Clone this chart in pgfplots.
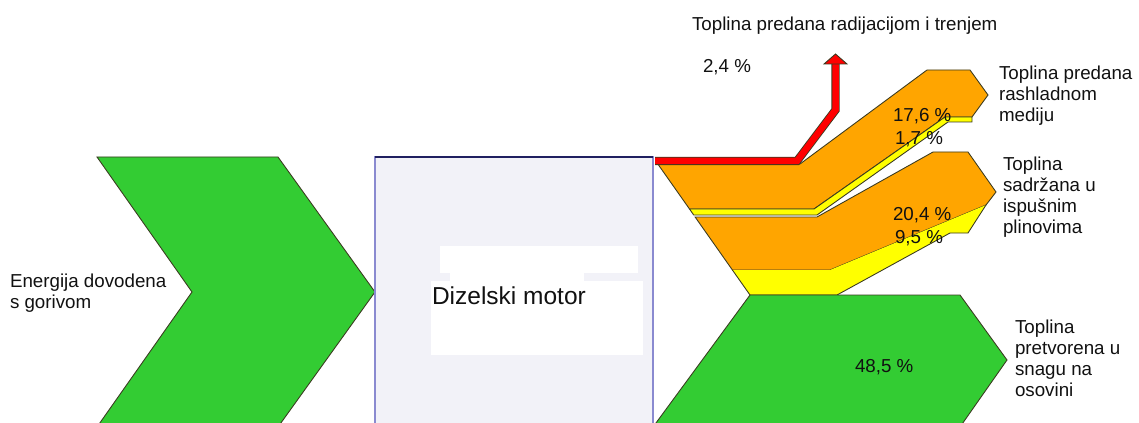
\documentclass[border=0pt]{standalone}
\usepackage{pgfplots}
\pgfplotsset{compat=1.18}
\usepackage{fontspec}
\setmainfont{Liberation Sans}
\definecolor{fgreen}{HTML}{33CC33}
\definecolor{forange}{HTML}{FFA500}
\definecolor{fyellow}{HTML}{FFFF00}
\definecolor{fred}{HTML}{FF0000}
\definecolor{boxfill}{HTML}{F2F2F8}
\definecolor{boxline}{HTML}{8A8AD0}
\definecolor{boxtop}{HTML}{202060}
\definecolor{edge}{HTML}{3A3A20}
\definecolor{txt}{HTML}{111111}
\tikzset{lab/.style={font=\fontsize{7.5bp}{8.6bp}\selectfont,text=txt,inner sep=0pt,outer sep=0pt,anchor=base west}}
\begin{document}
\begin{tikzpicture}
\begin{axis}[width=455.6bp,height=169.2bp,scale only axis,hide axis,
  xmin=0,xmax=1139,ymin=0,ymax=423,y dir=reverse,clip=true]
% input arrow
\addplot[fill=fgreen,draw=edge,line width=0.35bp] coordinates {(97,157) (278,157) (375,292) (278,427) (97,427) (192,292)} -- cycle;
% motor box
\addplot[fill=boxfill,draw=boxline,line width=0.65bp] coordinates {(375,157) (653,157) (653,440) (375,440)} -- cycle;
\addplot[draw=boxtop,line width=0.5bp] coordinates {(375,157) (653,157)};
\addplot[fill=white,draw=none] coordinates {(440,246) (638,246) (638,273) (440,273)} -- cycle;
\addplot[fill=white,draw=none] coordinates {(450,272) (584,272) (584,282) (450,282)} -- cycle;
\addplot[fill=white,draw=none] coordinates {(431,281) (643,281) (643,355) (431,355)} -- cycle;
% output flows
\addplot[fill=forange,draw=edge,line width=0.35bp] coordinates {(657.8,164) (800,164) (927,70) (970,70) (988,95) (972,117) (945,117) (814,209) (689.5,209)} -- cycle;
\addplot[fill=fyellow,draw=edge,line width=0.35bp] coordinates {(689.5,209) (814,209) (945,117) (972,117) (972,122) (948,122) (817,215) (693.7,215)} -- cycle;
\addplot[fill=forange,draw=edge,line width=0.35bp] coordinates {(695.1,217) (817,217) (933,152) (968,152) (996,192) (986,205) (830,270) (732.4,270)} -- cycle;
\addplot[fill=fyellow,draw=none] coordinates {(732.4,270) (830,270) (986,205) (968,233) (950,233) (837,295) (750,295)} -- cycle;
\addplot[draw=edge,line width=0.35bp] coordinates {(986,205) (968,233) (950,233) (837,295) (750,295) (732.4,270)};
\addplot[fill=fgreen,draw=edge,line width=0.35bp] coordinates {(750,295) (960,295) (1007,360) (960,427) (653,427)} -- cycle;
% red flow
\addplot[draw=edge,line width=3.3bp,miter limit=10,line join=miter] coordinates {(655,161) (797,161) (835.5,110) (835.5,63)};
\addplot[draw=fred,line width=2.6bp,line join=miter,miter limit=10] coordinates {(655,161) (797,161) (835.5,110) (835.5,62)};
\addplot[fill=fred,draw=edge,line width=0.35bp] coordinates {(824,64) (847,64) (835.5,54)} -- cycle;
% texts
\node[lab] at (692,31) {Toplina predana radijacijom i trenjem};
\node[lab] at (703,73) {2,4 \%};
\node[lab] at (999,80) {Toplina predana};
\node[lab] at (999,101) {rashladnom};
\node[lab] at (999,122) {mediju};
\node[lab] at (1003,170) {Toplina};
\node[lab] at (1003,191) {sadržana u};
\node[lab] at (1003,212) {ispušnim};
\node[lab] at (1003,233) {plinovima};
\node[lab] at (1015,333) {Toplina};
\node[lab] at (1015,354) {pretvorena u};
\node[lab] at (1015,375) {snagu na};
\node[lab] at (1015,396) {osovini};
\node[lab] at (10,287) {Energija dovodena};
\node[lab] at (10,308) {s gorivom};
\node[lab,font=\fontsize{9.8bp}{11bp}\selectfont] at (432,304) {Dizelski motor};
\node[lab] at (893,122) {17,6 \%};
\node[lab] at (895,145) {1,7 \%};
\node[lab] at (893,220) {20,4 \%};
\node[lab] at (895,243) {9,5 \%};
\node[lab] at (855,372) {48,5 \%};
\end{axis}
\pgfresetboundingbox
\path (current axis.south west) rectangle (current axis.north east);
\end{tikzpicture}
\end{document}
